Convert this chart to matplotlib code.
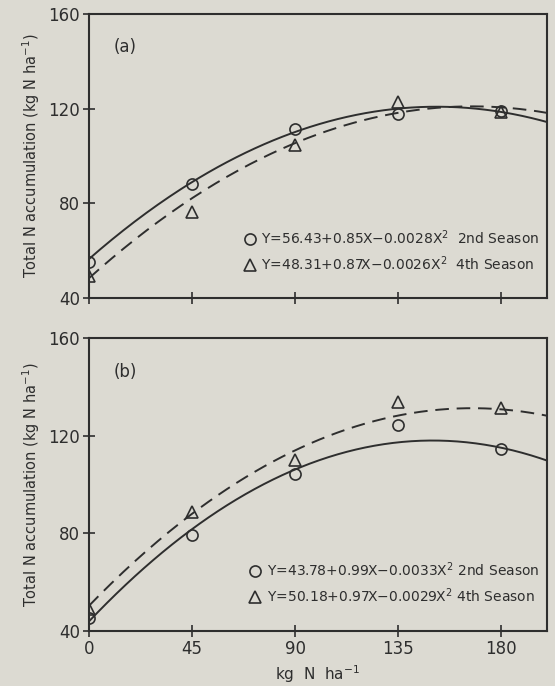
import numpy as np
import matplotlib.pyplot as plt

# N rate (kg N/ha)
n_rate = [0, 45, 90, 135, 180]

# panel (a) observed total N accumulation
a_2nd = [55.4, 88.2, 111.5, 117.9, 119.2]
a_4th = [49.3, 76.4, 104.8, 123.0, 118.9]
# panel (b)
b_2nd = [45.4, 79.1, 104.1, 124.2, 114.6]
b_4th = [49.1, 88.6, 110.1, 134.0, 131.4]

# fitted quadratic coefficients (c0, c1, c2) as printed on the figure
a_fit_2nd = [56.43, 0.85, -0.0028]
a_fit_4th = [48.31, 0.87, -0.0026]
b_fit_2nd = [43.78, 0.99, -0.0033]
b_fit_4th = [50.18, 0.97, -0.0029]

eq_a = ['Y=56.43+0.85X\u22120.0028X$^2$  2nd Season',
        'Y=48.31+0.87X\u22120.0026X$^2$  4th Season']
eq_b = ['Y=43.78+0.99X\u22120.0033X$^2$ 2nd Season',
        'Y=50.18+0.97X\u22120.0029X$^2$ 4th Season']

paper = '#dcdad2'
ink = '#2e2e2e'

fig = plt.figure(figsize=(5.55, 6.86), dpi=100, facecolor=paper)
ax_a = fig.add_axes([0.160, 0.5656, 0.826, 0.4134])
ax_b = fig.add_axes([0.160, 0.0805, 0.826, 0.4265])

xs = np.linspace(0, 200, 200)


def draw(ax, y2, y4, f2, f4, eqs, tag, show_x):
    ax.set_facecolor(paper)
    ax.plot(xs, np.polyval(f2[::-1], xs), color=ink, lw=1.4)
    ax.plot(xs, np.polyval(f4[::-1], xs), color=ink, lw=1.4, dashes=(7, 4))
    ax.plot(n_rate, y2, 'o', mfc='none', mec=ink, mew=1.2, ms=8, label=eqs[0])
    ax.plot(n_rate, y4, '^', mfc='none', mec=ink, mew=1.2, ms=8, label=eqs[1])
    ax.set_xlim(0, 200)
    ax.set_ylim(40, 160)
    ax.set_xticks(n_rate)
    ax.set_yticks([40, 80, 120, 160])
    ax.tick_params(direction='inout', length=9, width=1.2, color=ink,
                   labelsize=12, labelcolor=ink, pad=2)
    if not show_x:
        ax.set_xticklabels([])
    for s in ax.spines.values():
        s.set_color(ink)
        s.set_linewidth(1.5)
    ax.text(16, 146, tag, fontsize=12, color=ink, ha='center', va='center')
    ax.set_ylabel('Total N accumulation (kg N ha$^{-1}$)', fontsize=10.5,
                  color=ink, labelpad=4)
    leg = ax.legend(loc='lower right', bbox_to_anchor=(1.0, 0.06), frameon=False,
                    fontsize=10, handlelength=0.6, handletextpad=0.5,
                    labelspacing=0.5, borderaxespad=0.2)
    for t in leg.get_texts():
        t.set_color(ink)


draw(ax_a, a_2nd, a_4th, a_fit_2nd, a_fit_4th, eq_a, '(a)', False)
draw(ax_b, b_2nd, b_4th, b_fit_2nd, b_fit_4th, eq_b, '(b)', True)
ax_b.set_xlabel('kg  N  ha$^{-1}$', fontsize=11, color=ink, labelpad=4)

fig.savefig('out.png', dpi=100, facecolor=paper)
